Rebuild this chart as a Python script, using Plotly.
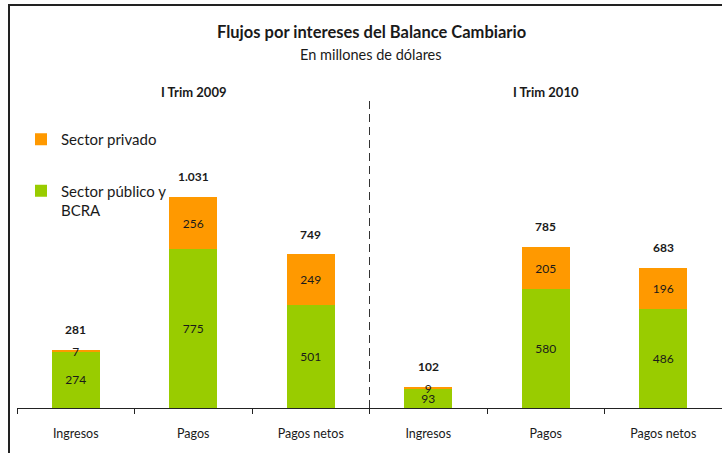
import plotly.graph_objects as go

categories = ["Ingresos", "Pagos", "Pagos netos", "Ingresos", "Pagos", "Pagos netos"]
periods = ["I Trim 2009", "I Trim 2010"]
sector_publico = [274, 775, 501, 93, 580, 486]
sector_privado = [7, 256, 249, 9, 205, 196]
totales = [281, 1031, 749, 102, 785, 683]

FONT = "Lato, 'Open Sans', sans-serif"
GREEN = "#99CC00"
ORANGE = "#FF9900"
TXT = "#1a1a1a"

x = list(range(len(categories)))

def fmt(v):
    return f"{v:,}".replace(",", ".")

fig = go.Figure()
fig.add_trace(go.Bar(
    x=x, y=sector_publico, name="Sector público y<br>BCRA",
    marker=dict(color=GREEN, line=dict(width=0)), width=0.41,
    text=[str(v) for v in sector_publico], textposition="inside",
    insidetextanchor="middle", constraintext="none", textangle=0,
    textfont=dict(family=FONT, size=12, color=TXT),
    legendgroup="g", legendrank=2, hoverinfo="skip",
))
fig.add_trace(go.Bar(
    x=x, y=sector_privado, name="Sector privado",
    marker=dict(color=ORANGE, line=dict(width=0)), width=0.41,
    text=[str(v) for v in sector_privado], textposition="inside",
    insidetextanchor="middle", constraintext="none", textangle=0,
    textfont=dict(family=FONT, size=12, color=TXT),
    legendgroup="o", legendrank=1, hoverinfo="skip",
))

annotations = []
for xi, t in zip(x, totales):
    annotations.append(dict(
        x=xi, y=t, xref="x", yref="y", text=f"<b>{fmt(t)}</b>",
        showarrow=False, yanchor="bottom", yshift=11,
        font=dict(family=FONT, size=12, color=TXT),
    ))

for xi, p in zip([1, 4], periods):
    annotations.append(dict(
        x=xi, y=(408 - 92) / 287, xref="x", yref="paper", text=f"<b>{p}</b>",
        showarrow=False, yanchor="middle",
        font=dict(family=FONT, size=13, color=TXT),
    ))

annotations.append(dict(
    x=(372 - 17) / 705, y=(408 - 32) / 287, xref="paper", yref="paper",
    text="<b>Flujos por intereses del Balance Cambiario</b>",
    showarrow=False, yanchor="middle",
    font=dict(family=FONT, size=16.5, color=TXT),
))
annotations.append(dict(
    x=(371 - 17) / 705, y=(408 - 55) / 287, xref="paper", yref="paper",
    text="En millones de dólares",
    showarrow=False, yanchor="middle",
    font=dict(family=FONT, size=14.5, color=TXT),
))

shapes = [
    dict(type="line", xref="x", yref="paper", x0=2.5, x1=2.5,
         y0=0, y1=(408 - 98) / 287,
         line=dict(color="#333333", width=1, dash="8px,5px")),
    dict(type="line", xref="paper", yref="paper",
         x0=(9 - 17) / 705, x1=(9 - 17) / 705, y0=(408 - 460) / 287, y1=(408 - 4) / 287,
         line=dict(color="#222222", width=2)),
    dict(type="line", xref="paper", yref="paper",
         x0=(8 - 17) / 705, x1=1.02, y0=(408 - 5) / 287, y1=(408 - 5) / 287,
         line=dict(color="#222222", width=2)),
]

fig.update_layout(
    width=722, height=453,
    margin=dict(l=17, r=0, t=121, b=45),
    barmode="stack",
    plot_bgcolor="white", paper_bgcolor="white",
    font=dict(family=FONT, color=TXT),
    showlegend=True,
    legend=dict(
        x=(21 - 17) / 705, y=(408 - 123) / 287, xanchor="left", yanchor="top",
        traceorder="grouped", tracegroupgap=29, valign="top",
        font=dict(family=FONT, size=15, color=TXT), bgcolor="rgba(0,0,0,0)",
    ),
    xaxis=dict(
        range=[-0.5, 5.5], tickvals=x, ticktext=categories, ticks="",
        showline=True, linecolor="#222222", linewidth=1,
        showgrid=False, zeroline=False, ticklabelstandoff=14,
        tickfont=dict(family=FONT, size=12.5, color=TXT),
        minor=dict(tickvals=[i - 0.5 for i in range(len(categories) + 1)],
                   ticks="outside", ticklen=5, tickcolor="#222222", showgrid=False),
    ),
    yaxis=dict(range=[0, 1402], visible=False, showgrid=False, zeroline=False),
    annotations=annotations,
    shapes=shapes,
)

fig.write_html("out.html", config={"displayModeBar": False},
               post_script="document.body.style.margin='0';document.body.style.overflow='hidden';")
